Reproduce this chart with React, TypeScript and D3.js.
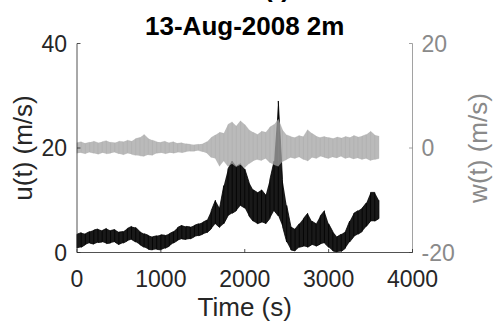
import React from "react";
import * as d3 from "d3";

// Sample times (s)
const times = [
  0, 50, 100, 150, 200, 250, 300, 350, 400, 450, 500, 550, 600, 650, 700, 750,
  800, 850, 900, 950, 1000, 1050, 1100, 1150, 1200, 1250, 1300, 1350, 1400, 1450,
  1500, 1550, 1600, 1650, 1700, 1750, 1800, 1850, 1900, 1950, 2000, 2050, 2100,
  2150, 2200, 2250, 2300, 2350, 2400, 2450, 2500, 2550, 2600, 2650, 2700, 2750,
  2800, 2850, 2900, 2950, 3000, 3050, 3100, 3150, 3200, 3250, 3300, 3350, 3400,
  3450, 3500, 3550, 3600,
];

// u(t) envelope (m/s) — lower and upper excursions in each 50 s window
const uLow = [
  0.8, 1.0, 1.5, 1.8, 1.6, 1.9, 2.0, 1.7, 1.8, 2.0, 1.5, 1.8, 2.2, 2.5, 2.0, 1.5,
  1.0, 0.6, 0.5, 0.6, 0.5, 0.8, 1.2, 1.8, 2.3, 2.6, 2.5, 2.6, 3.0, 3.2,
  3.5, 3.8, 4.5, 5.5, 4.8, 5.5, 7.0, 7.5, 8.0, 9.0, 8.5, 7.0, 6.0,
  5.5, 5.8, 5.5, 6.5, 8.0, 7.0, 5.0, 2.0, 0.5, 0.3, 1.0, 1.2, 1.0,
  1.5, 1.2, 1.6, 1.8, 1.0, 0.3, 0.1, 0.2, 0.8, 2.0, 3.0, 3.5, 4.0,
  5.0, 6.0, 6.0, 6.5,
];
const uHigh = [
  3.5, 3.8, 3.6, 4.0, 4.3, 4.5, 4.2, 4.6, 4.2, 4.4, 3.9, 4.0, 4.6, 5.0, 4.8, 4.0,
  3.6, 3.3, 3.0, 3.2, 3.4, 3.3, 3.6, 4.0, 4.8, 5.2, 5.0, 4.9, 5.2, 5.5,
  5.8, 6.2, 8.0, 10.0, 8.5, 12.8, 16.0, 17.5, 16.5, 17.0, 16.0, 13.5, 12.0,
  11.5, 12.0, 11.0, 14.0, 17.5, 29.0, 14.0, 9.0, 5.0, 4.5, 5.5, 6.5, 7.5,
  6.0, 5.5, 7.0, 8.0, 5.5, 4.0, 3.0, 3.5, 4.0, 6.0, 7.5, 8.0, 8.5,
  9.5, 11.5, 11.5, 10.0,
];

// w(t) envelope (m/s)
const wLow = [
  -1.0, -0.9, -1.1, -0.8, -1.0, -1.2, -0.9, -1.1, -1.0, -0.8, -1.1, -1.3, -1.0, -1.2, -1.4, -1.5,
  -1.6, -1.3, -1.4, -1.0, -0.9, -1.1, -0.9, -1.0, -0.8, -0.9, -0.7, -0.6, -0.6, -0.5,
  -0.7, -1.0, -1.8, -2.0, -3.5, -2.5, -3.5, -3.0, -3.6, -3.2, -3.8, -3.0, -2.5,
  -2.2, -2.4, -2.0, -2.8, -3.2, -3.5, -2.6, -2.2, -1.8, -2.0, -1.7, -2.2, -2.5,
  -1.8, -2.0, -1.6, -1.8, -2.0, -1.7, -1.9, -1.6, -2.0, -1.8, -2.1, -1.9, -2.2,
  -2.0, -2.4, -2.2, -2.0,
];
const wHigh = [
  1.0, 1.2, 0.9, 1.1, 1.3, 1.0, 1.2, 1.4, 1.1, 1.0, 1.3, 1.2, 1.5, 1.3, 1.8, 2.0,
  2.6, 1.8, 1.5, 1.2, 1.1, 1.3, 1.0, 1.2, 0.9, 1.0, 0.8, 0.7, 0.6, 0.7,
  0.8, 1.2, 2.0, 2.5, 3.0, 2.8, 4.5, 5.0, 4.2, 5.2, 4.5, 3.5, 3.0,
  2.6, 3.2, 3.0, 4.0, 4.5, 5.5, 3.5, 2.5, 2.2, 2.0, 2.4, 2.2, 3.5,
  2.8, 2.3, 2.0, 2.2, 2.0, 1.8, 2.1, 1.9, 2.2, 2.0, 2.4, 2.1, 2.3,
  2.6, 3.2, 2.5, 2.3,
];

const xTicks = [0, 1000, 2000, 3000, 4000];
const uTicks = [0, 20, 40];
const wTicks = [-20, 0, 20];

const W = 495;
const H = 325;
const M = { left: 77, right: 412.5, top: 43.5, bottom: 252.5 };
const FONT = "'Liberation Sans', Arial, Helvetica, sans-serif";
const AX = "#262626";
const GR = "#8a8a8a";

export default function App() {
  const x = d3.scaleLinear().domain([0, 4000]).range([M.left, M.right]);
  const yU = d3.scaleLinear().domain([0, 40]).range([M.bottom, M.top]);
  const yW = d3.scaleLinear().domain([-20, 20]).range([M.bottom, M.top]);

  // zigzag through each window's low and high excursion
  const zig = (lo: number[], hi: number[]) => {
    const pts: [number, number][] = [];
    times.forEach((t, i) => {
      if (i % 2 === 0) {
        pts.push([t, lo[i]]);
        pts.push([t, hi[i]]);
      } else {
        pts.push([t, hi[i]]);
        pts.push([t, lo[i]]);
      }
    });
    return pts;
  };

  const uPts = zig(uLow, uHigh);
  const wPts = zig(wLow, wHigh);
  const uLine = d3.line<[number, number]>().x((d) => x(d[0])).y((d) => yU(d[1]));
  const wLine = d3.line<[number, number]>().x((d) => x(d[0])).y((d) => yW(d[1]));
  const uArea = d3
    .area<number>()
    .x((_, i) => x(times[i]))
    .y0((_, i) => yU(uLow[i]))
    .y1((_, i) => yU(uHigh[i]));
  const wArea = d3
    .area<number>()
    .x((_, i) => x(times[i]))
    .y0((_, i) => yW(wLow[i]))
    .y1((_, i) => yW(wHigh[i]));

  return (
    <svg
      width={W}
      height={H}
      style={{ position: "absolute", left: 0, top: 0, background: "#fff" }}
      fontFamily={FONT}
    >
      {/* u(t) series */}
      <path d={uArea(times) || ""} fill="#000" opacity={0.9} />
      <path d={uLine(uPts) || ""} fill="none" stroke="#000" strokeWidth={0.8} />
      {/* w(t) series */}
      <path d={wArea(times) || ""} fill="#a3a3a3" opacity={0.75} />
      <path d={wLine(wPts) || ""} fill="none" stroke="#a0a0a0" strokeWidth={0.5} opacity={0.6} />

      {/* left axis */}
      <line x1={M.left} x2={M.left} y1={M.top} y2={M.bottom} stroke={AX} strokeWidth={0.8} />
      {uTicks.map((v) => (
        <g key={"u" + v}>
          <line x1={M.left} x2={M.left + 3.5} y1={yU(v)} y2={yU(v)} stroke={AX} strokeWidth={0.8} />
          <text x={M.left - 10} y={yU(v) + 8} textAnchor="end" fontSize={23} fill={AX}>
            {v}
          </text>
        </g>
      ))}
      {/* right axis */}
      <line x1={M.right} x2={M.right} y1={M.top} y2={M.bottom} stroke={GR} strokeWidth={0.8} />
      {wTicks.map((v) => (
        <g key={"w" + v}>
          <line x1={M.right} x2={M.right - 3.5} y1={yW(v)} y2={yW(v)} stroke={GR} strokeWidth={0.8} />
          <text x={M.right + 9} y={yW(v) + 8} textAnchor="start" fontSize={23} fill={GR}>
            {v}
          </text>
        </g>
      ))}
      {/* bottom axis */}
      <line x1={M.left} x2={M.right} y1={M.bottom} y2={M.bottom} stroke={AX} strokeWidth={0.8} />
      {xTicks.map((v) => (
        <g key={"x" + v}>
          <line x1={x(v)} x2={x(v)} y1={M.bottom} y2={M.bottom - 3.5} stroke={AX} strokeWidth={0.8} />
          <text x={x(v)} y={287} textAnchor="middle" fontSize={23} fill={AX}>
            {v}
          </text>
        </g>
      ))}

      {/* labels */}
      <text x={(M.left + M.right) / 2} y={316} textAnchor="middle" fontSize={26} fill={AX}>
        Time (s)
      </text>
      <text
        transform={`translate(32, ${(M.top + M.bottom) / 2}) rotate(-90)`}
        textAnchor="middle"
        fontSize={26}
        fill={AX}
      >
        u(t) (m/s)
      </text>
      <text
        transform={`translate(487, ${(M.top + M.bottom) / 2}) rotate(-90)`}
        textAnchor="middle"
        fontSize={26}
        fill={GR}
      >
        w(t) (m/s)
      </text>

      {/* title (first line is cut off by the top edge, as in the original) */}
      <text x={290} y={-3} textAnchor="end" fontSize={26} fontWeight="bold" fill="#000">
        u(t)
      </text>
      <text x={(M.left + M.right) / 2} y={35} textAnchor="middle" fontSize={26} fontWeight="bold" fill="#000">
        13-Aug-2008 2m
      </text>
    </svg>
  );
}
